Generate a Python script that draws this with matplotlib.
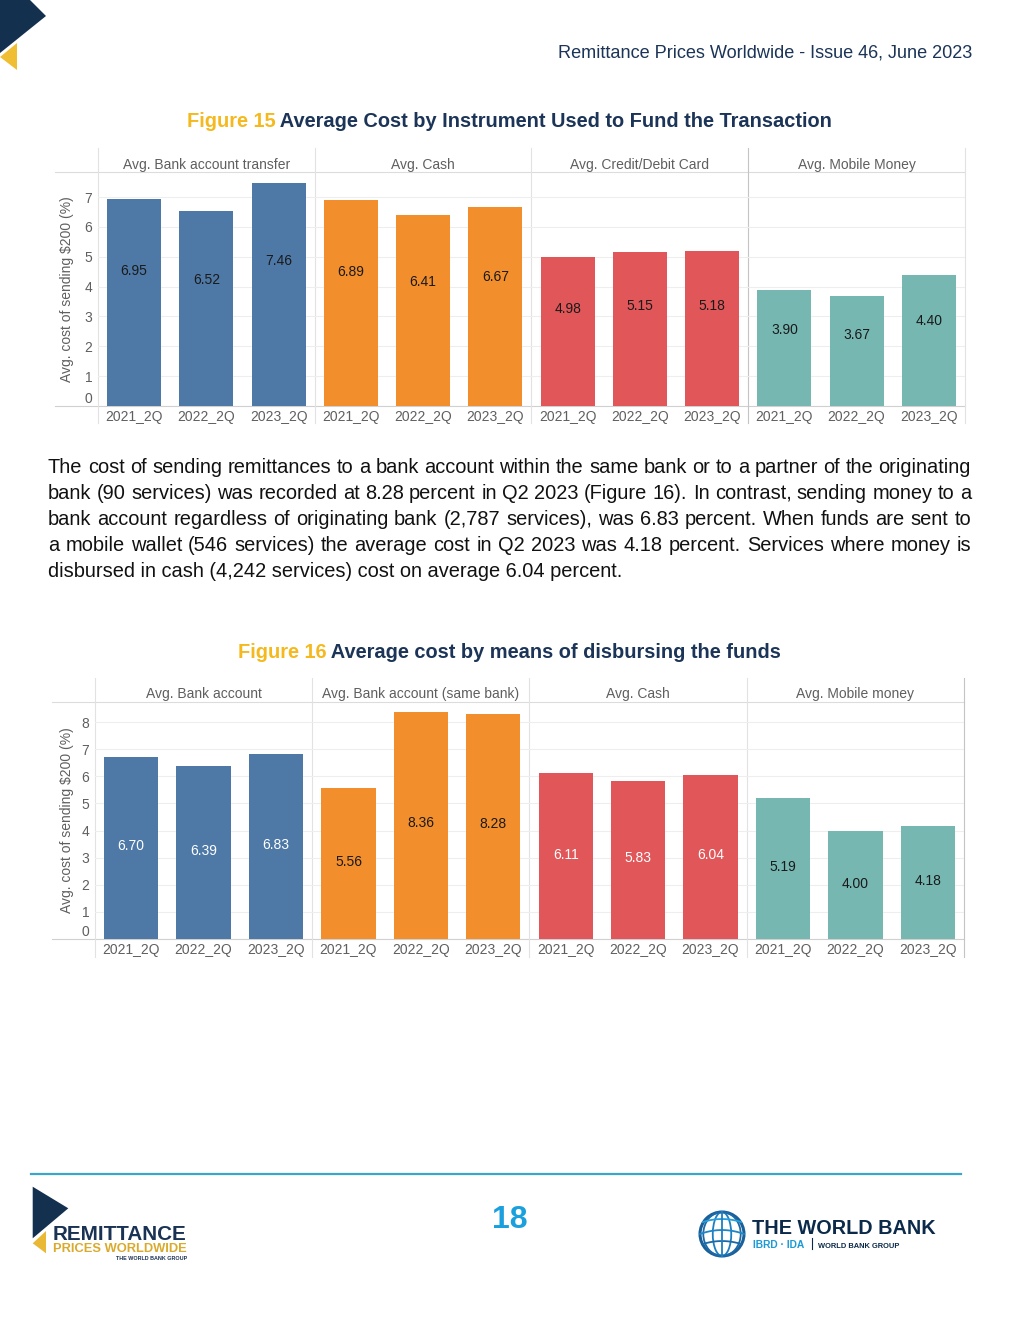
import matplotlib
matplotlib.use("Agg")
import matplotlib.pyplot as plt
import numpy as np
from matplotlib import font_manager
from matplotlib.patches import Polygon, Circle, Ellipse

W, H = 1020, 1320

# ---- data ----
quarters = ["2021_2Q", "2022_2Q", "2023_2Q"]

fig15_label = "Figure 15"
fig15_title = "Average Cost by Instrument Used to Fund the Transaction"
fig15_groups = ["Avg. Bank account transfer", "Avg. Cash", "Avg. Credit/Debit Card", "Avg. Mobile Money"]
fig15_values = [[6.95, 6.52, 7.46],
                [6.89, 6.41, 6.67],
                [4.98, 5.15, 5.18],
                [3.90, 3.67, 4.40]]

fig16_label = "Figure 16"
fig16_title = "Average cost by means of disbursing the funds"
fig16_groups = ["Avg. Bank account", "Avg. Bank account (same bank)", "Avg. Cash", "Avg. Mobile money"]
fig16_values = [[6.70, 6.39, 6.83],
                [5.56, 8.36, 8.28],
                [6.11, 5.83, 6.04],
                [5.19, 4.00, 4.18]]

y_label = "Avg. cost of sending $200 (%)"
header_text = "Remittance Prices Worldwide - Issue 46, June 2023"
paragraph = [
    "The cost of sending remittances to a bank account within the same bank or to a partner of the originating",
    "bank (90 services) was recorded at 8.28 percent in Q2 2023 (Figure 16). In contrast, sending money to a",
    "bank account regardless of originating bank (2,787 services), was 6.83 percent. When funds are sent to",
    "a mobile wallet (546 services) the average cost in Q2 2023 was 4.18 percent. Services where money is",
    "disbursed in cash (4,242 services) cost on average 6.04 percent.",
]
page_number = "18"

group_colors = ["#4e79a7", "#f28e2b", "#e15759", "#76b7b2"]
fig15_label_colors = ["#1a1a1a", "#1a1a1a", "#1a1a1a", "#1a1a1a"]
fig16_label_colors = ["white", "#1a1a1a", "white", "#1a1a1a"]

NAVY = "#1b3457"
GOLD = "#f5b91e"
GREY = "#5f5f5f"


def has_font(name):
    try:
        font_manager.findfont(font_manager.FontProperties(family=name), fallback_to_default=False)
        return True
    except ValueError:
        return False


SANS = "Liberation Sans"
NARROW = "Liberation Sans Narrow" if has_font("Liberation Sans Narrow") else SANS
plt.rcParams["font.family"] = [SANS, "DejaVu Sans"]

fig = plt.figure(figsize=(W / 100, H / 100), dpi=100)
page = fig.add_axes([0, 0, 1, 1])
page.set_xlim(0, W)
page.set_ylim(H, 0)
page.axis("off")
renderer = fig.canvas.get_renderer()


def width_of(t):
    return t.get_window_extent(renderer).width


def fit(t, target):
    t.set_fontsize(t.get_fontsize() * target / width_of(t))
    return t


def draw_title(y, label, rest, size):
    t1 = page.text(0, y, label, fontsize=size, fontweight="bold", color=GOLD, va="center")
    t2 = page.text(0, y, " " + rest, fontsize=size, fontweight="bold", color=NAVY, va="center")
    w1, w2 = width_of(t1), width_of(t2)
    x0 = 509.5 - (w1 + w2) / 2
    t1.set_x(x0)
    t2.set_x(x0 + w1)


def draw_chart(left, top, right, bottom, head_top, foot, axis_left, ymax,
               groups, values, label_colors, label_frac, dark, head_off):
    ax = fig.add_axes([left / W, 1 - bottom / H, (right - left) / W, (bottom - top) / H])
    ax.set_facecolor("none")
    n = len(quarters)
    for g, vals in enumerate(values):
        xs = np.arange(n) + g * n
        ax.bar(xs, vals, width=0.75, color=group_colors[g], zorder=2)
        for x, v in zip(xs, vals):
            ax.text(x, v * label_frac, f"{v:.2f}", ha="center", va="center",
                    fontsize=10, color=label_colors[g], zorder=3)
    ax.set_xlim(-0.5, n * len(groups) - 0.5)
    ax.set_ylim(0, ymax)
    ax.set_xticks(np.arange(n * len(groups)))
    ax.set_xticklabels(quarters * len(groups))
    ax.set_yticks(np.arange(0, int(ymax) + 1))
    ax.tick_params(length=0, labelsize=10, labelcolor=GREY)
    ax.tick_params(axis="x", pad=3)
    ax.tick_params(axis="y", pad=4)
    ax.get_yticklabels()[0].set_verticalalignment("bottom")
    ax.grid(axis="y", color="#eeeeee", lw=0.8)
    ax.set_axisbelow(True)
    for s in ax.spines.values():
        s.set_visible(False)
    ax.set_ylabel(y_label, fontsize=10, color=GREY)
    ax.yaxis.label.set_verticalalignment("center")
    ax.yaxis.set_label_coords((67 - left) / (right - left), 0.5)

    # frame lines and panel headers
    page.plot([axis_left, right], [top, top], color="#dcdcdc", lw=0.8)
    page.plot([axis_left, right], [bottom, bottom], color="#d0d0d0", lw=0.8)
    step = (right - left) / len(groups)
    for g in range(len(groups) + 1):
        x = left + g * step
        page.plot([x, x], [head_top, foot], color="#c4c4c4" if g == dark else "#e2e2e2", lw=0.8)
    for g, name in enumerate(groups):
        page.text(left + (g + 0.5) * step, top - head_off, name, ha="center", va="center",
                  fontsize=10, color=GREY)
    return ax


# ---- page decoration ----
page.add_patch(Polygon([(0, 0), (30, 0), (46, 16), (0, 53)], closed=True, color="#14304f", lw=0))
page.add_patch(Polygon([(17, 43), (0, 57), (17, 70)], closed=True, color="#f0be32", lw=0))
page.text(972, 53, header_text, ha="right", va="center", fontsize=13.1, color=NAVY)

# ---- figure 15 ----
draw_title(121.5, fig15_label, fig15_title, 14.4)
draw_chart(98, 172, 965, 406, 148, 423, 55, 7.84, fig15_groups, fig15_values,
           fig15_label_colors, 0.65, 3, 7)

# ---- paragraph (justified) ----
probe = page.text(0, 0, paragraph[-1], fontsize=12, family=NARROW)
psize = 12 * 573 / width_of(probe)
probe.remove()
para_left, para_right = 48, 971
for i, line in enumerate(paragraph):
    y = 473 + 26 * i
    if i == len(paragraph) - 1:
        page.text(para_left, y, line, fontsize=psize, family=NARROW, va="baseline", color="#111111")
        continue
    words = line.split(" ")
    texts = [page.text(0, y, w, fontsize=psize, family=NARROW, va="baseline", color="#111111")
             for w in words]
    widths = [width_of(t) for t in texts]
    gap = (para_right - para_left - sum(widths)) / (len(words) - 1)
    x = para_left
    for t, w in zip(texts, widths):
        t.set_x(x)
        x += w + gap

# ---- figure 16 ----
draw_title(652.5, fig16_label, fig16_title, 14.4)
draw_chart(95, 702, 964, 939, 678, 957, 52, 8.74, fig16_groups, fig16_values,
           fig16_label_colors, 0.51, 4, 8)

# ---- footer ----
page.plot([31, 961], [1174, 1174], color="#3ba6c8", lw=1.6)
page.text(510, 1220, page_number, ha="center", va="center", fontsize=23, fontweight="bold",
          family=NARROW, color="#1ba0de")

# remittance prices worldwide logo
page.add_patch(Polygon([(32.7, 1186.7), (68.3, 1208.3), (32.7, 1238.3)], closed=True, color="#14304f", lw=0))
page.add_patch(Polygon([(46, 1231), (32.7, 1243.3), (46, 1253.3)], closed=True, color="#e9b935", lw=0))
fit(page.text(53, 1240, "REMITTANCE", fontsize=15, fontweight="bold", color="#1a3253", va="baseline"), 134)
fit(page.text(53, 1252.5, "PRICES WORLDWIDE", fontsize=9, fontweight="bold", color="#d9aa2c", va="baseline"), 134)
fit(page.text(187, 1259.5, "THE WORLD BANK GROUP", fontsize=4, fontweight="bold", color="#1a3253",
              va="baseline", ha="right"), 70)

# world bank logo
cx, cy, r = 722, 1234, 22
page.add_patch(Circle((cx, cy), r, fill=False, ec="#1b5f99", lw=2.2))
for k, col in [(0.42, "#1d7fc0"), (0.85, "#1b6aa8")]:
    page.add_patch(Ellipse((cx, cy), 2 * r * k, 2 * r, fill=False, ec=col, lw=1.3))
for lat, col in [(-0.5, "#26a0dc"), (0.0, "#1d86c8"), (0.5, "#1b6aa8")]:
    half = r * np.sqrt(1 - lat ** 2)
    xs = np.linspace(-half, half, 40)
    ys = lat * r - 0.18 * r * (1 - (xs / r) ** 2)
    page.plot(cx + xs, cy + ys, color=col, lw=1.3)
page.plot([cx, cx], [cy - r, cy + r], color="#1d7fc0", lw=1.3)
fit(page.text(752, 1234, "THE WORLD BANK", fontsize=14, fontweight="bold", color="#0b2a4a", va="baseline"), 183)
fit(page.text(753, 1247.5, "IBRD \u00b7 IDA", fontsize=8, fontweight="bold", color="#1a9ad6", va="baseline"), 52)
page.plot([812, 812], [1238, 1249], color="#0b2a4a", lw=0.8)
fit(page.text(818, 1247.5, "WORLD BANK GROUP", fontsize=6.5, fontweight="bold", color="#0b2a4a", va="baseline"), 82)

fig.savefig("out.png", dpi=100)
